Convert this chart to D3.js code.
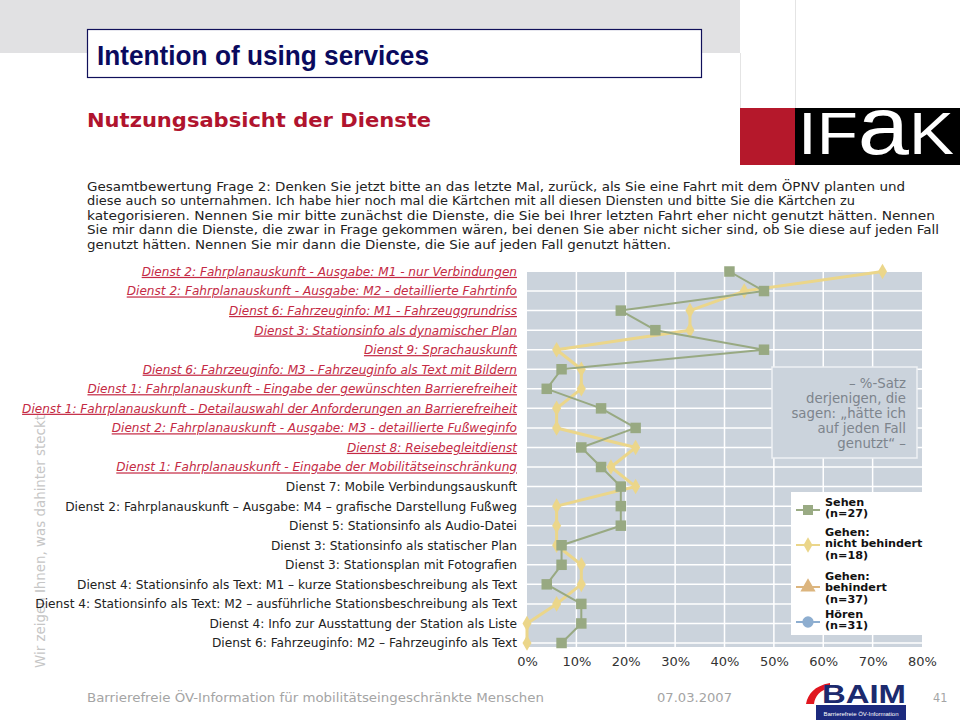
<!DOCTYPE html>
<html><head><meta charset="utf-8">
<script src="https://cdn.jsdelivr.net/npm/d3@7"></script>
<style>
html,body{margin:0;padding:0;background:#fff;}
svg{display:block;}
</style>
</head><body>
<svg id="chart" width="960" height="720"></svg>
<script>
const categories = [
  "Dienst 2: Fahrplanauskunft - Ausgabe: M1 - nur Verbindungen",
  "Dienst 2: Fahrplanauskunft - Ausgabe: M2 - detaillierte Fahrtinfo",
  "Dienst 6: Fahrzeuginfo: M1 - Fahrzeuggrundriss",
  "Dienst 3: Stationsinfo als dynamischer Plan",
  "Dienst 9: Sprachauskunft",
  "Dienst 6: Fahrzeuginfo: M3 - Fahrzeuginfo als Text mit Bildern",
  "Dienst 1: Fahrplanauskunft - Eingabe der gewünschten Barrierefreiheit",
  "Dienst 1: Fahrplanauskunft - Detailauswahl der Anforderungen an Barrierefreiheit",
  "Dienst 2: Fahrplanauskunft - Ausgabe: M3 - detaillierte Fußweginfo",
  "Dienst 8: Reisebegleitdienst",
  "Dienst 1: Fahrplanauskunft - Eingabe der Mobilitätseinschränkung",
  "Dienst 7: Mobile Verbindungsauskunft",
  "Dienst 2: Fahrplanauskunft – Ausgabe: M4 – grafische Darstellung Fußweg",
  "Dienst 5: Stationsinfo als Audio-Datei",
  "Dienst 3: Stationsinfo als statischer Plan",
  "Dienst 3: Stationsplan mit Fotografien",
  "Dienst 4: Stationsinfo als Text: M1 – kurze Stationsbeschreibung als Text",
  "Dienst 4: Stationsinfo als Text: M2 – ausführliche Stationsbeschreibung als Text",
  "Dienst 4: Info zur Ausstattung der Station als Liste",
  "Dienst 6: Fahrzeuginfo: M2 – Fahrzeuginfo als Text"
];
const linkedCategories = categories.slice(0, 11);
const sehen      = [41, 48, 19, 26, 48, 7, 4, 15, 22, 11, 15, 19, 19, 19, 7, 7, 4, 11, 11, 7];
const gehenNicht = [72, 44, 33, 33, 6, 11, 11, 6, 6, 22, 17, 22, 6, 6, 6, 11, 11, 6, 0, 0];
const xTicks = [0, 10, 20, 30, 40, 50, 60, 70, 80];
const legendItems = [
  {lines: ["Sehen", "(n=27)"], color: "#9aab84", symbol: d3.symbolSquare},
  {lines: ["Gehen:", "nicht behindert", "(n=18)"], color: "#ebd68a", symbol: d3.symbolDiamond},
  {lines: ["Gehen:", "behindert", "(n=37)"], color: "#dcb57e", symbol: d3.symbolTriangle},
  {lines: ["Hören", "(n=31)"], color: "#8eaed0", symbol: d3.symbolCircle}
];
const noteLines = ["– %-Satz", "derjenigen, die", "sagen: „hätte ich", "auf jeden Fall", "genutzt“ –"];
const paragraph = [
  "Gesamtbewertung Frage 2: Denken Sie jetzt bitte an das letzte Mal, zurück, als Sie eine Fahrt mit dem ÖPNV planten und",
  "diese auch so unternahmen. Ich habe hier noch mal die Kärtchen mit all diesen Diensten und bitte Sie die Kärtchen zu",
  "kategorisieren. Nennen Sie mir bitte zunächst die Dienste, die Sie bei Ihrer letzten Fahrt eher nicht genutzt hätten. Nennen",
  "Sie mir dann die Dienste, die zwar in Frage gekommen wären, bei denen Sie aber nicht sicher sind, ob Sie diese auf jeden Fall",
  "genutzt hätten. Nennen Sie mir dann die Dienste, die Sie auf jeden Fall genutzt hätten."
];
const paragraphWidths = [818, 768, 848, 852, 584];

const svg = d3.select("#chart");
const FONT = "'DejaVu Sans', Verdana, sans-serif";

// ---------- slide decoration ----------
svg.append("rect").attr("x", 0).attr("y", 0).attr("width", 740).attr("height", 53).attr("fill", "#e1e1e3");
svg.append("line").attr("x1", 740.5).attr("x2", 740.5).attr("y1", 53).attr("y2", 108).attr("stroke", "#e4e4e4");
svg.append("line").attr("x1", 795.5).attr("x2", 795.5).attr("y1", 0).attr("y2", 108).attr("stroke", "#e4e4e4");
svg.append("rect").attr("x", 87.5).attr("y", 29.5).attr("width", 614).attr("height", 48)
  .attr("fill", "#fff").attr("stroke", "#10105a").attr("stroke-width", 1.2);
svg.append("text").attr("x", 97).attr("y", 65)
  .attr("font-family", "'Liberation Sans Narrow', 'Liberation Sans', Arial, sans-serif")
  .attr("font-weight", "bold").attr("font-size", 27).attr("fill", "#0a0a5e")
  .attr("textLength", 332).attr("lengthAdjust", "spacingAndGlyphs")
  .text("Intention of using services");

// IFAK logo
svg.append("rect").attr("x", 740).attr("y", 108).attr("width", 55).attr("height", 57).attr("fill", "#b5182b");
svg.append("rect").attr("x", 795).attr("y", 108).attr("width", 165).attr("height", 57).attr("fill", "#000");
const ifak = svg.append("text").attr("x", 798).attr("y", 154)
  .attr("font-family", "'Liberation Sans Narrow', 'Liberation Sans', Arial, sans-serif")
  .attr("font-size", 60).attr("fill", "#fff")
  .attr("textLength", 156).attr("lengthAdjust", "spacingAndGlyphs");
ifak.append("tspan").text("IF");
ifak.append("tspan").attr("font-size", 82).text("a");
ifak.append("tspan").text("K");

// subtitle
svg.append("text").attr("x", 87).attr("y", 127)
  .attr("font-family", FONT).attr("font-weight", "bold").attr("font-size", 19).attr("fill", "#b0142e")
  .attr("textLength", 344).attr("lengthAdjust", "spacingAndGlyphs")
  .text("Nutzungsabsicht der Dienste");

// paragraph
svg.append("g").selectAll("text").data(paragraph).join("text")
  .attr("x", 87).attr("y", (d, i) => 191 + i * 14.4)
  .attr("font-family", "'DejaVu Sans Condensed', 'DejaVu Sans', Tahoma, sans-serif")
  .attr("font-size", 12.5).attr("fill", "#222")
  .attr("textLength", (d, i) => paragraphWidths[i]).attr("lengthAdjust", "spacingAndGlyphs")
  .text(d => d);

// rotated slogan (clipped where the label column covers it)
svg.append("clipPath").attr("id", "sloganClip")
  .append("rect").attr("x", 0).attr("y", 414).attr("width", 80).attr("height", 300);
svg.append("g").attr("clip-path", "url(#sloganClip)")
  .append("text")
  .attr("transform", "translate(45,668) rotate(-90)")
  .attr("font-family", FONT).attr("font-size", 13.4).attr("fill", "#c6c6c6")
  .text("Wir zeigen Ihnen, was dahinter steckt");

// footer
const footer = svg.append("g").attr("font-family", "'DejaVu Sans Condensed', 'DejaVu Sans', Tahoma, sans-serif")
  .attr("font-size", 12.5).attr("fill", "#a4a4a4");
footer.append("text").attr("x", 87).attr("y", 702).attr("textLength", 457).attr("lengthAdjust", "spacingAndGlyphs")
  .text("Barrierefreie ÖV-Information für mobilitätseingeschränkte Menschen");
footer.append("text").attr("x", 657).attr("y", 702).attr("textLength", 75).attr("lengthAdjust", "spacingAndGlyphs").text("07.03.2007");
footer.append("text").attr("x", 933).attr("y", 702).text("41");

// BAIM logo
svg.append("path").attr("d", "M806,704 C808,694 814,686 830,683 L830,688 C820,690 815,696 814,704 Z").attr("fill", "#e0161f");
svg.append("text").attr("x", 822).attr("y", 703)
  .attr("font-family", "'Liberation Sans Narrow', 'Liberation Sans', Arial, sans-serif")
  .attr("font-weight", "bold").attr("font-size", 26).attr("fill", "#1c2a6e")
  .attr("textLength", 84).attr("lengthAdjust", "spacingAndGlyphs").text("BAIM");
svg.append("rect").attr("x", 816).attr("y", 705).attr("width", 90).attr("height", 15).attr("fill", "#1c2a7e");
svg.append("text").attr("x", 861).attr("y", 715.5).attr("text-anchor", "middle")
  .attr("font-family", "'Liberation Sans Narrow', 'Liberation Sans', Arial, sans-serif")
  .attr("font-size", 6).attr("fill", "#fff").text("Barrierefreie ÖV-Information");

// ---------- chart ----------
const x = d3.scaleLinear().domain([0, 80]).range([527, 922]);
const y = d3.scalePoint().domain(categories).range([271.5, 643]);
const plotTop = 272, plotBottom = 647;

svg.append("rect").attr("x", x(0)).attr("y", plotTop).attr("width", x(80) - x(0)).attr("height", plotBottom - plotTop)
  .attr("fill", "#cbd3dc");

// gridlines
svg.append("g").selectAll("line").data(categories.slice(1)).join("line")
  .attr("x1", x(0)).attr("x2", x(80)).attr("y1", d => y(d)).attr("y2", d => y(d))
  .attr("stroke", "#fff").attr("stroke-width", 1.5);
svg.append("g").selectAll("line").data(xTicks.slice(1, -1)).join("line")
  .attr("x1", d => x(d)).attr("x2", d => x(d)).attr("y1", plotTop).attr("y2", plotBottom)
  .attr("stroke", "#fff").attr("stroke-width", 1.5);

// x axis
const xAxis = svg.append("g").attr("transform", `translate(0,${plotBottom})`)
  .call(d3.axisBottom(x).tickValues(xTicks).tickFormat(d => d + "%").tickSize(0).tickPadding(10));
xAxis.select(".domain").remove();
xAxis.selectAll("text").attr("font-family", FONT).attr("font-size", 13).attr("fill", "#333");

// y axis labels
const yAxis = svg.append("g").attr("transform", `translate(${x(0)},0)`)
  .call(d3.axisLeft(y).tickSize(0).tickPadding(10));
yAxis.select(".domain").remove();
yAxis.selectAll("text")
  .attr("font-family", FONT)
  .attr("font-size", d => linkedCategories.includes(d) ? 12.1 : 12.2)
  .attr("fill", d => linkedCategories.includes(d) ? "#c42a44" : "#222")
  .attr("font-style", d => linkedCategories.includes(d) ? "italic" : "normal")
  .style("text-decoration", d => linkedCategories.includes(d) ? "underline" : "none");

// annotation box
const note = svg.append("g");
note.append("rect").attr("x", 772).attr("y", 367).attr("width", 145).attr("height", 91)
  .attr("fill", "#cbd3dc").attr("stroke", "#eef1f4").attr("stroke-width", 1.5);
note.selectAll("text").data(noteLines).join("text")
  .attr("x", 906).attr("y", (d, i) => 388 + i * 15).attr("text-anchor", "end")
  .attr("font-family", FONT).attr("font-size", 13.3).attr("fill", "#7d848c")
  .text(d => d);

// series
const line = d3.line().x(d => x(d[1])).y(d => y(d[0]));
function drawSeries(values, color, width, symbol, size) {
  const pts = values.map((v, i) => [categories[i], v]);
  svg.append("path").datum(pts).attr("d", line).attr("fill", "none")
    .attr("stroke", color).attr("stroke-width", width).attr("stroke-linejoin", "round");
  svg.append("g").selectAll("path").data(pts).join("path")
    .attr("transform", d => `translate(${x(d[1])},${y(d[0])})`)
    .attr("d", d3.symbol().type(symbol).size(size)).attr("fill", color);
}
drawSeries(gehenNicht, "#ebd68a", 3, d3.symbolDiamond, 70);
drawSeries(sehen, "#98a982", 2, d3.symbolSquare, 110);

// legend
const leg = svg.append("g");
leg.append("rect").attr("x", 791).attr("y", 492).attr("width", 138).attr("height", 143).attr("fill", "#fff");
const legTops = [502, 532, 576, 614];
const legMarks = [510, 545, 587, 622];
legendItems.forEach((it, k) => {
  leg.append("line").attr("x1", 796).attr("x2", 820).attr("y1", legMarks[k]).attr("y2", legMarks[k])
    .attr("stroke", it.color).attr("stroke-width", 2);
  leg.append("path").attr("transform", `translate(808,${legMarks[k]})`)
    .attr("d", d3.symbol().type(it.symbol).size(it.symbol === d3.symbolDiamond ? 70 : 100)).attr("fill", it.color);
  leg.selectAll(null).data(it.lines).join("text")
    .attr("x", 825).attr("y", (d, i) => legTops[k] + 4 + i * 11.3)
    .attr("font-family", FONT).attr("font-weight", "bold").attr("font-size", 11.2).attr("fill", "#111")
    .text(d => d);
});
</script>
</body></html>
